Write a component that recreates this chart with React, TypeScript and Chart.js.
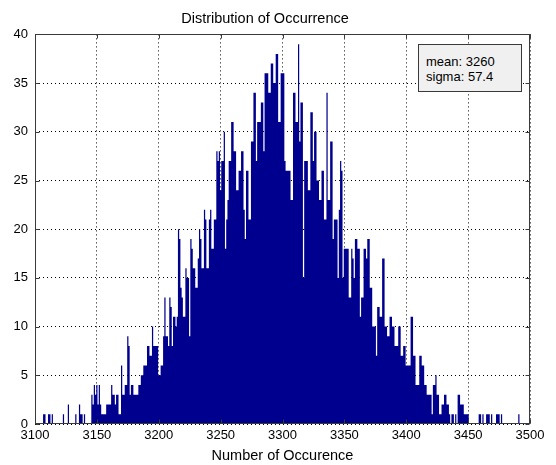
import React, { useEffect, useRef } from "react";
import { Chart, registerables } from "chart.js";

Chart.register(...registerables);

// Histogram counts, one bin per integer value, split in blocks of 50 bins
const counts3100 = [
  0, 0, 0, 0, 0, 0, 0, 1, 1, 0,
  0, 1, 1, 0, 1, 0, 0, 0, 0, 0,
  0, 0, 0, 1, 0, 0, 0, 2, 0, 0,
  0, 0, 0, 1, 0, 0, 2, 1, 1, 0,
  1, 0, 0, 0, 0, 0, 3, 2, 4, 3,
];
const counts3150 = [
  4, 2, 4, 2, 1, 1, 1, 1, 2, 2,
  2, 2, 4, 3, 3, 2, 3, 3, 1, 1,
  6, 3, 3, 4, 4, 9, 8, 3, 4, 4,
  3, 3, 3, 3, 4, 4, 5, 5, 6, 6,
  6, 8, 8, 7, 7, 10, 8, 8, 8, 8,
];
const counts3200 = [
  5, 5, 6, 6, 9, 13, 9, 9, 8, 13,
  12, 8, 11, 11, 10, 11, 20, 19, 14, 13,
  11, 11, 16, 15, 15, 9, 19, 18, 16, 16,
  14, 14, 17, 20, 19, 16, 16, 22, 21, 16,
  16, 21, 22, 18, 18, 21, 21, 28, 27, 28,
];
const counts3250 = [
  24, 27, 27, 30, 18, 21, 23, 27, 27, 31,
  31, 28, 28, 24, 24, 26, 26, 28, 28, 22,
  19, 26, 26, 21, 21, 29, 29, 34, 34, 27,
  31, 31, 31, 33, 33, 28, 36, 36, 36, 34,
  34, 37, 37, 35, 35, 38, 38, 31, 31, 36,
];
const counts3300 = [
  36, 36, 27, 26, 26, 26, 26, 23, 23, 34,
  34, 31, 31, 39, 29, 33, 33, 15, 27, 27,
  27, 24, 24, 32, 32, 27, 30, 30, 25, 25,
  23, 23, 26, 26, 21, 21, 34, 23, 23, 29,
  29, 19, 21, 21, 21, 15, 22, 27, 26, 15,
];
const counts3350 = [
  18, 18, 18, 18, 13, 13, 18, 17, 15, 19,
  19, 18, 18, 11, 13, 13, 18, 18, 17, 19,
  19, 14, 14, 10, 10, 10, 7, 12, 12, 11,
  11, 17, 17, 10, 10, 9, 9, 11, 11, 10,
  10, 8, 8, 8, 10, 10, 7, 7, 8, 8,
];
const counts3400 = [
  6, 6, 6, 6, 11, 11, 7, 7, 4, 4,
  4, 7, 7, 6, 6, 4, 4, 3, 3, 3,
  3, 1, 4, 4, 5, 3, 3, 1, 1, 2,
  2, 3, 3, 2, 2, 1, 0, 1, 1, 0,
  1, 0, 3, 3, 2, 2, 2, 1, 1, 1,
];
const counts3450 = [
  1, 0, 0, 0, 0, 0, 0, 0, 0, 1,
  1, 0, 1, 0, 0, 1, 1, 1, 0, 1,
  0, 0, 0, 1, 1, 1, 0, 1, 0, 0,
  0, 0, 0, 0, 0, 0, 0, 0, 0, 0,
  0, 1, 0, 0, 0, 0, 0, 0, 0, 0,
];

const firstBin = 3100;
const xMin = 3100;
const xMax = 3500;
const xStep = 50;
const yMin = 0;
const yMax = 40;
const yStep = 5;

const titleText = "Distribution of Occurrence";
const xTitle = "Number of Occurence";
const statLines = ["mean: 3260", "sigma: 57.4"];

const FONT = '"Liberation Sans", Arial, Helvetica, sans-serif';

export default function App() {
  const ref = useRef<HTMLCanvasElement | null>(null);

  useEffect(() => {
    const canvas = ref.current;
    if (!canvas) return;
    const counts = [
      ...counts3100, ...counts3150, ...counts3200, ...counts3250,
      ...counts3300, ...counts3350, ...counts3400, ...counts3450,
    ];
    const data = counts.map((c, i) => ({ x: firstBin + i, y: c }));

    const framePlugin = {
      id: "frame",
      afterDatasetsDraw(chart: any) {
        const { ctx, chartArea: a, scales } = chart;
        const L = Math.round(a.left) + 0.5;
        const R = Math.round(a.right) - 0.5;
        const T = Math.round(a.top) + 0.5;
        const B = Math.round(a.bottom) - 0.5;
        ctx.save();
        ctx.strokeStyle = "#3a3a3a";
        ctx.lineWidth = 1;
        ctx.strokeRect(L, T, R - L, B - T);
        const tl = 4;
        ctx.beginPath();
        for (let v = xMin; v <= xMax; v += xStep) {
          const px = Math.round(scales.x.getPixelForValue(v)) + 0.5;
          ctx.moveTo(px, B);
          ctx.lineTo(px, B - tl);
          ctx.moveTo(px, T);
          ctx.lineTo(px, T + tl);
        }
        for (let v = yMin; v <= yMax; v += yStep) {
          const py = Math.round(scales.y.getPixelForValue(v)) + 0.5;
          ctx.moveTo(L, py);
          ctx.lineTo(L + tl, py);
          ctx.moveTo(R, py);
          ctx.lineTo(R - tl, py);
        }
        ctx.stroke();
        ctx.restore();
      },
    };

    const chart = new Chart(canvas, {
      type: "line",
      data: {
        datasets: [
          {
            data,
            stepped: "middle",
            fill: "origin",
            backgroundColor: "#00008F",
            borderColor: "rgba(0,0,0,0)",
            borderWidth: 0,
            pointRadius: 0,
            pointHoverRadius: 0,
            tension: 0,
          },
        ],
      },
      options: {
        animation: false,
        responsive: false,
        devicePixelRatio: 1,
        layout: { padding: { left: 0, right: 26, top: 0, bottom: 0 } },
        plugins: {
          legend: { display: false },
          tooltip: { enabled: false },
          title: {
            display: true,
            text: titleText,
            color: "#000",
            font: { family: FONT, size: 14.5, weight: "normal" },
            padding: { top: 10, bottom: 7 },
          },
        },
        scales: {
          x: {
            type: "linear",
            min: xMin,
            max: xMax,
            offset: false,
            grid: { color: "#000", lineWidth: 1, drawTicks: false, offset: false },
            border: { display: false, dash: [1, 3] },
            ticks: {
              stepSize: xStep,
              autoSkip: false,
              maxRotation: 0,
              color: "#000",
              padding: 4,
              font: { family: FONT, size: 13 },
              callback: (v: any) => String(v),
            },
            title: {
              display: true,
              text: xTitle,
              color: "#000",
              font: { family: FONT, size: 14.5 },
              padding: { top: 0, bottom: 0 },
            },
            afterFit(scale: any) {
              scale.height = 41;
            },
          },
          y: {
            min: yMin,
            max: yMax,
            grid: { color: "#000", lineWidth: 1, drawTicks: false },
            border: { display: false, dash: [1, 3] },
            ticks: {
              stepSize: yStep,
              color: "#000",
              padding: 7,
              font: { family: FONT, size: 13 },
              callback: (v: any) => String(v),
            },
            afterFit(scale: any) {
              scale.width = 35;
            },
          },
        },
      },
      plugins: [framePlugin],
    } as any);
    return () => chart.destroy();
  }, []);

  return (
    <div style={{ position: "absolute", left: 0, top: 0, width: 556, height: 465, background: "#fff" }}>
      <canvas ref={ref} width={556} height={465} style={{ display: "block" }} />
      <div
        style={{
          position: "absolute",
          left: 418,
          top: 44,
          width: 104,
          height: 48,
          background: "#f0f0f0",
          border: "1px solid #3a3a3a",
          fontFamily: FONT,
          fontSize: 13,
          lineHeight: "15px",
          color: "#000",
          paddingLeft: 7,
          paddingTop: 9,
          boxSizing: "border-box",
        }}
      >
        {statLines.map((s) => (
          <div key={s}>{s}</div>
        ))}
      </div>
    </div>
  );
}
